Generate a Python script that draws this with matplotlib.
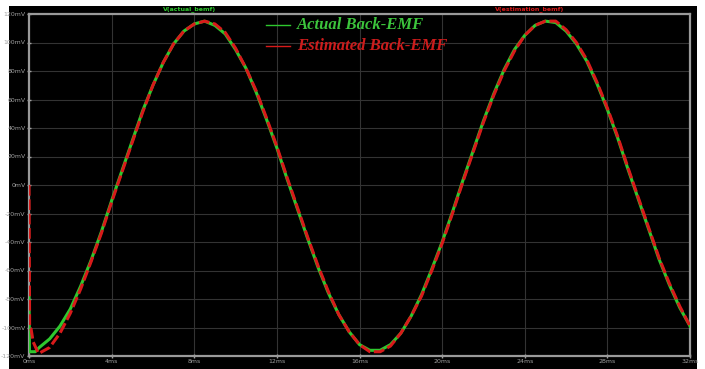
import matplotlib.pyplot as plt
from matplotlib.patches import Rectangle

# time in ms, voltage in mV
t_ms = [0.0, 0.5, 1.0, 1.5, 2.0, 2.5, 3.0, 3.5, 4.0, 4.5, 5.0, 5.5, 6.0, 6.5,
        7.0, 7.5, 8.0, 8.5, 9.0, 9.5, 10.0, 10.5, 11.0, 11.5, 12.0, 12.5, 13.0,
        13.5, 14.0, 14.5, 15.0, 15.5, 16.0, 16.5, 17.0, 17.5, 18.0, 18.5, 19.0,
        19.5, 20.0, 20.5, 21.0, 21.5, 22.0, 22.5, 23.0, 23.5, 24.0, 24.5, 25.0,
        25.5, 26.0, 26.5, 27.0, 27.5, 28.0, 28.5, 29.0, 29.5, 30.0, 30.5, 31.0,
        31.5, 32.0]
actual_mv = [-116, -114, -108, -99, -87, -71, -53, -33, -11, 10, 31, 52, 70, 86,
             99, 108, 113, 115, 112, 106, 95, 82, 65, 46, 26, 4, -17,
             -38, -58, -76, -91, -103, -112, -116, -116, -112, -104, -92, -77,
             -59, -40, -19, 3, 24, 45, 64, 81, 95, 105, 112, 115,
             114, 108, 99, 87, 71, 53, 33, 11, -10, -31, -52, -70,
             -86, -99]
estimated_mv = [-117, -118, -114, -104, -90, -73, -54, -34, -12, 9, 30, 51, 70, 86,
                99, 108, 113, 115, 113, 107, 96, 82, 66, 47, 27, 5, -16,
                -37, -57, -75, -91, -103, -112, -117, -117, -113, -104, -92, -78,
                -60, -41, -20, 2, 23, 44, 63, 80, 94, 105, 112, 115,
                115, 109, 100, 88, 72, 54, 34, 12, -9, -30, -51, -69,
                -85, -99]

# start-up transient at t = 0
actual_start_t = [0.0, 0.02, 0.3]
actual_start_v = [-74, -117, -117]
est_start_t = [0.0, 0.03, 0.1, 0.2, 0.45]
est_start_v = [0, -100, -101, -110, -118]

yticks = list(range(-120, 121, 20))
xticks = list(range(0, 33, 4))

fig = plt.figure(figsize=(7.05, 3.69), dpi=100)
fig.patch.set_facecolor('white')
fig.patches.append(Rectangle((9/705, 0), 688/705, 1 - 6/369, transform=fig.transFigure,
                             facecolor='black', edgecolor='none', zorder=-10))

ax = fig.add_axes([29/705, 1 - 356/369, 661/705, 342/369])
ax.set_facecolor('black')

green = '#2ec82e'
red = '#d81a1a'

ax.plot(actual_start_t + t_ms[1:], actual_start_v + actual_mv[1:], color=green, lw=2.2,
        solid_joinstyle='round', zorder=3)
ax.plot(est_start_t + t_ms[1:], est_start_v + estimated_mv[1:], color=red, lw=2.2,
        dashes=(3.5, 1.2), zorder=4)

ax.set_xlim(0, 32)
ax.set_ylim(-120, 120)
ax.set_xticks(xticks)
ax.set_yticks(yticks)
ax.set_xticklabels([f'{x}ms' for x in xticks])
ax.set_yticklabels([f'{y}mV' for y in yticks])
ax.grid(True, color='#333333', lw=0.8)
ax.tick_params(colors='#a0a0a0', labelsize=4.5, length=3, width=1, direction='inout', pad=1)
for s in ax.spines.values():
    s.set_color('#9a9a9a')
    s.set_linewidth(1.6)

# trace names along the top
fig.text(190/705, 1 - 9/369, 'V(actual_bemf)', color=green, fontsize=4.5,
         fontweight='bold', ha='center', va='center')
fig.text(530/705, 1 - 9/369, 'V(estimation_bemf)', color=red, fontsize=4.5,
         fontweight='bold', ha='center', va='center')

# legend
fig.lines.append(plt.Line2D([266/705, 290/705], [1 - 25/369, 1 - 25/369], color=green,
                            lw=1.0, transform=fig.transFigure))
fig.lines.append(plt.Line2D([266/705, 290/705], [1 - 46/369, 1 - 46/369], color=red,
                            lw=1.0, transform=fig.transFigure))
fig.text(297/705, 1 - 25/369, 'Actual Back-EMF', color='#3cc43c', fontsize=12,
         family='Liberation Serif', style='italic', fontweight='bold', va='center')
fig.text(297/705, 1 - 46/369, 'Estimated Back-EMF', color='#cc1c1c', fontsize=12,
         family='Liberation Serif', style='italic', fontweight='bold', va='center')

fig.savefig('out.png', dpi=100, facecolor=fig.get_facecolor())
